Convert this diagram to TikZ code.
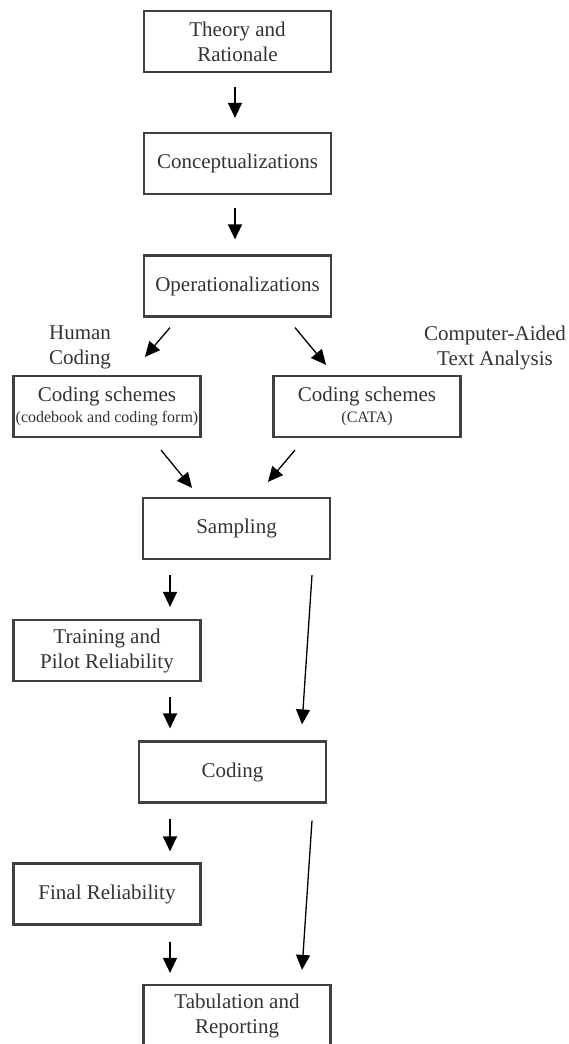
\documentclass[tikz,border=0pt]{standalone}
\usepackage{fontspec}
\setmainfont{Liberation Serif}
\usetikzlibrary{arrows.meta,calc}
\definecolor{boxline}{HTML}{404040}
\definecolor{ink}{HTML}{333333}
\newcommand\subnote{\fontsize{16}{20}\selectfont}
\begin{document}
\begin{tikzpicture}[x=1pt,y=-1pt,
  stage/.style={draw=boxline, line width=2.2pt, minimum width=187pt, minimum height=61pt,
    inner sep=0pt, align=center, text=ink, font=\fontsize{21}{25}\selectfont},
  sidelabel/.style={align=center, text=ink, font=\fontsize{21}{25}\selectfont},
  flow/.style={draw=black, line width=1.3pt, -{Triangle[width=14pt,length=15pt]}}]
\useasboundingbox (0,0) rectangle (568,1044);

% stages of the process
\node[stage] (theory) at (237.5,41.5) {Theory and\\Rationale};
\node[stage] (concept) at (237.5,163.5) {Conceptualizations};
\node[stage] (oper) at (237.5,286) {Operationalizations};
\node[stage] (human) at (107,406.5) {Coding schemes\\[-4pt]{\subnote (codebook and coding form)}};
\node[stage] (cata) at (367,406.5) {Coding schemes\\[-4pt]{\subnote (CATA)}};
\node[stage] (samp) at (236.5,528.5) {Sampling};
\node[stage] (train) at (107,650.5) {Training and\\Pilot Reliability};
\node[stage] (coding) at (232.5,772) {Coding};
\node[stage] (final) at (107,894) {Final Reliability};
\node[stage] (tab) at (237,1015.5) {Tabulation and\\Reporting};

% branch labels
\node[sidelabel] (hlabel) at (80,347.5) {Human\\Coding};
\node[sidelabel] (clabel) at (495,348) {Computer-Aided\\Text Analysis};

% connectors
\draw[flow] ($(theory.south)+(-2.5,14)$) -- ($(concept.north)+(-2.5,-14)$);
\draw[flow] ($(concept.south)+(-2.5,13)$) -- ($(oper.north)+(-2.5,-15)$);
\draw[flow] ($(oper.south)+(-67.5,10)$) -- ($(human.north)+(38,-18)$);
\draw[flow] ($(oper.south)+(57.5,10)$) -- ($(cata.north)+(-41,-10)$);
\draw[flow] ($(human.south)+(54,12)$) -- ($(samp.north)+(-44.5,-9)$);
\draw[flow] ($(cata.south)+(-72,12)$) -- ($(samp.north)+(31.5,-15)$);
\draw[flow] ($(samp.south)+(-66.5,15)$) -- ($(train.north)+(63,-12)$);
\draw[flow] ($(samp.south)+(75.5,15)$) -- ($(coding.north)+(69.5,-16)$);
\draw[flow] ($(train.south)+(63,15)$) -- ($(coding.north)+(-62.5,-12)$);
\draw[flow] ($(coding.south)+(-62.5,15)$) -- ($(final.north)+(63,-11)$);
\draw[flow] ($(coding.south)+(79.5,17)$) -- ($(tab.north)+(65,-14)$);
\draw[flow] ($(final.south)+(63,16)$) -- ($(tab.north)+(-67,-11)$);
\end{tikzpicture}
\end{document}
